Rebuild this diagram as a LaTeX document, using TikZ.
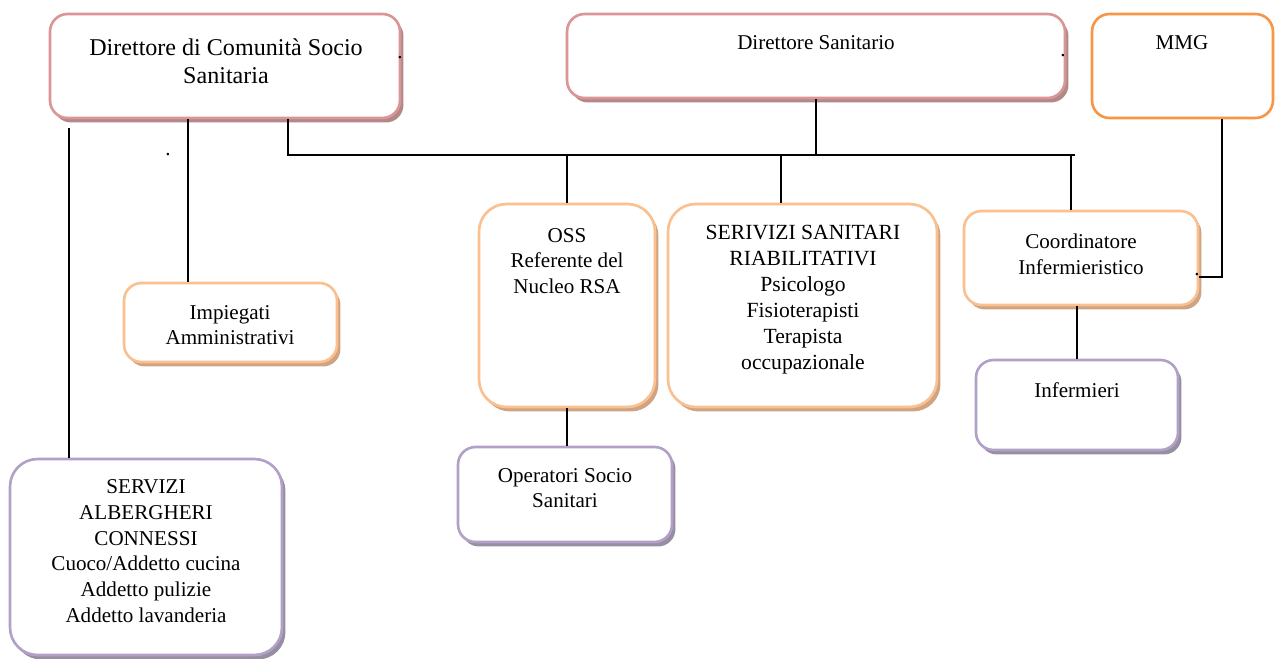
\documentclass[tikz,border=0pt]{standalone}
\usepackage{fontspec}
\setmainfont{Liberation Serif}
\usetikzlibrary{shadows}
\definecolor{redline}{RGB}{217,150,148}
\definecolor{redshadow}{RGB}{178,136,136}
\definecolor{peachline}{RGB}{250,192,143}
\definecolor{peachshadow}{RGB}{208,164,130}
\definecolor{orangeline}{RGB}{247,150,70}
\definecolor{lilacline}{RGB}{178,161,199}
\definecolor{lilacshadow}{RGB}{152,142,164}

\begin{document}
\begin{tikzpicture}[x=0.02cm,y=-0.02cm]

\tikzstyle{box}=[rectangle,rounded corners=0.35cm,line width=1.5pt,fill=white,inner sep=0pt]
\tikzstyle{redbox}=[box,draw=redline,drop shadow={shadow xshift=0.07cm,shadow yshift=-0.09cm,fill=redshadow,opacity=1}]
\tikzstyle{peachbox}=[box,draw=peachline,drop shadow={shadow xshift=0.07cm,shadow yshift=-0.09cm,fill=peachshadow,opacity=1}]
\tikzstyle{lilacbox}=[box,draw=lilacline,drop shadow={shadow xshift=0.07cm,shadow yshift=-0.09cm,fill=lilacshadow,opacity=1}]
\tikzstyle{orangebox}=[box,draw=orangeline]
\tikzstyle{txt}=[align=center,inner sep=0pt,font=\fontsize{12}{14.6}\selectfont]
\tikzstyle{link}=[line width=1pt]

\useasboundingbox (0,0) rectangle (1275,659);

\node[redbox,minimum width=7cm,minimum height=2.08cm](dcs) at (225,66){};
\node[txt,font=\fontsize{13.7}{15.9}\selectfont](dcs-t) at (226,61){Direttore di Comunità Socio\\Sanitaria};

\node[redbox,minimum width=9.96cm,minimum height=1.68cm](ds) at (816,56){};
\node[txt](ds-t) at (816,43){Direttore Sanitario};

\node[orangebox,minimum width=3.62cm,minimum height=2.08cm](mmg) at (1182.5,66){};
\node[txt](mmg-t) at (1182,43){MMG};

\node[peachbox,minimum width=4.26cm,minimum height=1.58cm](imp) at (230.5,322.5){};
\node[txt](imp-t) at (230,325){Impiegati\\Amministrativi};

\node[lilacbox,rounded corners=0.55cm,minimum width=5.44cm,minimum height=3.92cm](sac) at (146,557){};
\node[txt](sac-t) at (146,551){SERVIZI\\ALBERGHERI\\CONNESSI\\Cuoco/Addetto cucina\\Addetto pulizie\\Addetto lavanderia};

\node[peachbox,rounded corners=0.55cm,minimum width=3.52cm,minimum height=4.06cm](oss) at (567,305.5){};
\node[txt](oss-t) at (567,261){OSS\\Referente del\\Nucleo RSA};

\node[peachbox,rounded corners=0.55cm,minimum width=5.38cm,minimum height=4.06cm](ssr) at (802.5,305.5){};
\node[txt,font=\fontsize{12.3}{14.8}\selectfont](ssr-t) at (803,300){SERIVIZI SANITARI\\RIABILITATIVI\\Psicologo\\Fisioterapisti\\Terapista\\occupazionale};

\node[lilacbox,minimum width=4.28cm,minimum height=1.9cm](ops) at (565,494.5){};
\node[txt](ops-t) at (565,488){Operatori Socio\\Sanitari};

\node[peachbox,minimum width=4.68cm,minimum height=1.88cm](coo) at (1081,258){};
\node[txt](coo-t) at (1081,254){Coordinatore\\Infermieristico};

\node[lilacbox,minimum width=4.04cm,minimum height=1.8cm](inf) at (1077,405){};
\node[txt](inf-t) at (1077,390){Infermieri};

\node[txt](dot1) at (400,58){.};
\node[txt](dot2) at (168,155){.};
\node[txt](dot3) at (1063,56){.};
\node[txt](dot4) at (1197,275){.};

\coordinate (sacX) at (69,128);
\coordinate (impX) at (188,118);
\coordinate (busL) at (288,155);
\coordinate (busR) at (1075,155);
\coordinate (dropS) at (781,155);
\coordinate (dropC) at (1071,155);
\coordinate (mmgJ) at (1222,277);

\draw[link](sacX)--(sacX |- sac.north);
\draw[link](dcs.south -| impX)--(impX |- imp.north);
\draw[link](dcs.south -| busL)--(busL)--(busR);
\draw[link](ds.south)--(ds.south |- busL);
\draw[link](busL -| oss.north)--(oss.north);
\draw[link](dropS)--(dropS |- ssr.north);
\draw[link](dropC)--(dropC |- coo.north);
\draw[link](oss.south)--(oss.south |- ops.north);
\draw[link](inf.north |- coo.south)--(inf.north);
\draw[link](mmg.south -| mmgJ)--(mmgJ)--(coo.east |- mmgJ);

\end{tikzpicture}
\end{document}
